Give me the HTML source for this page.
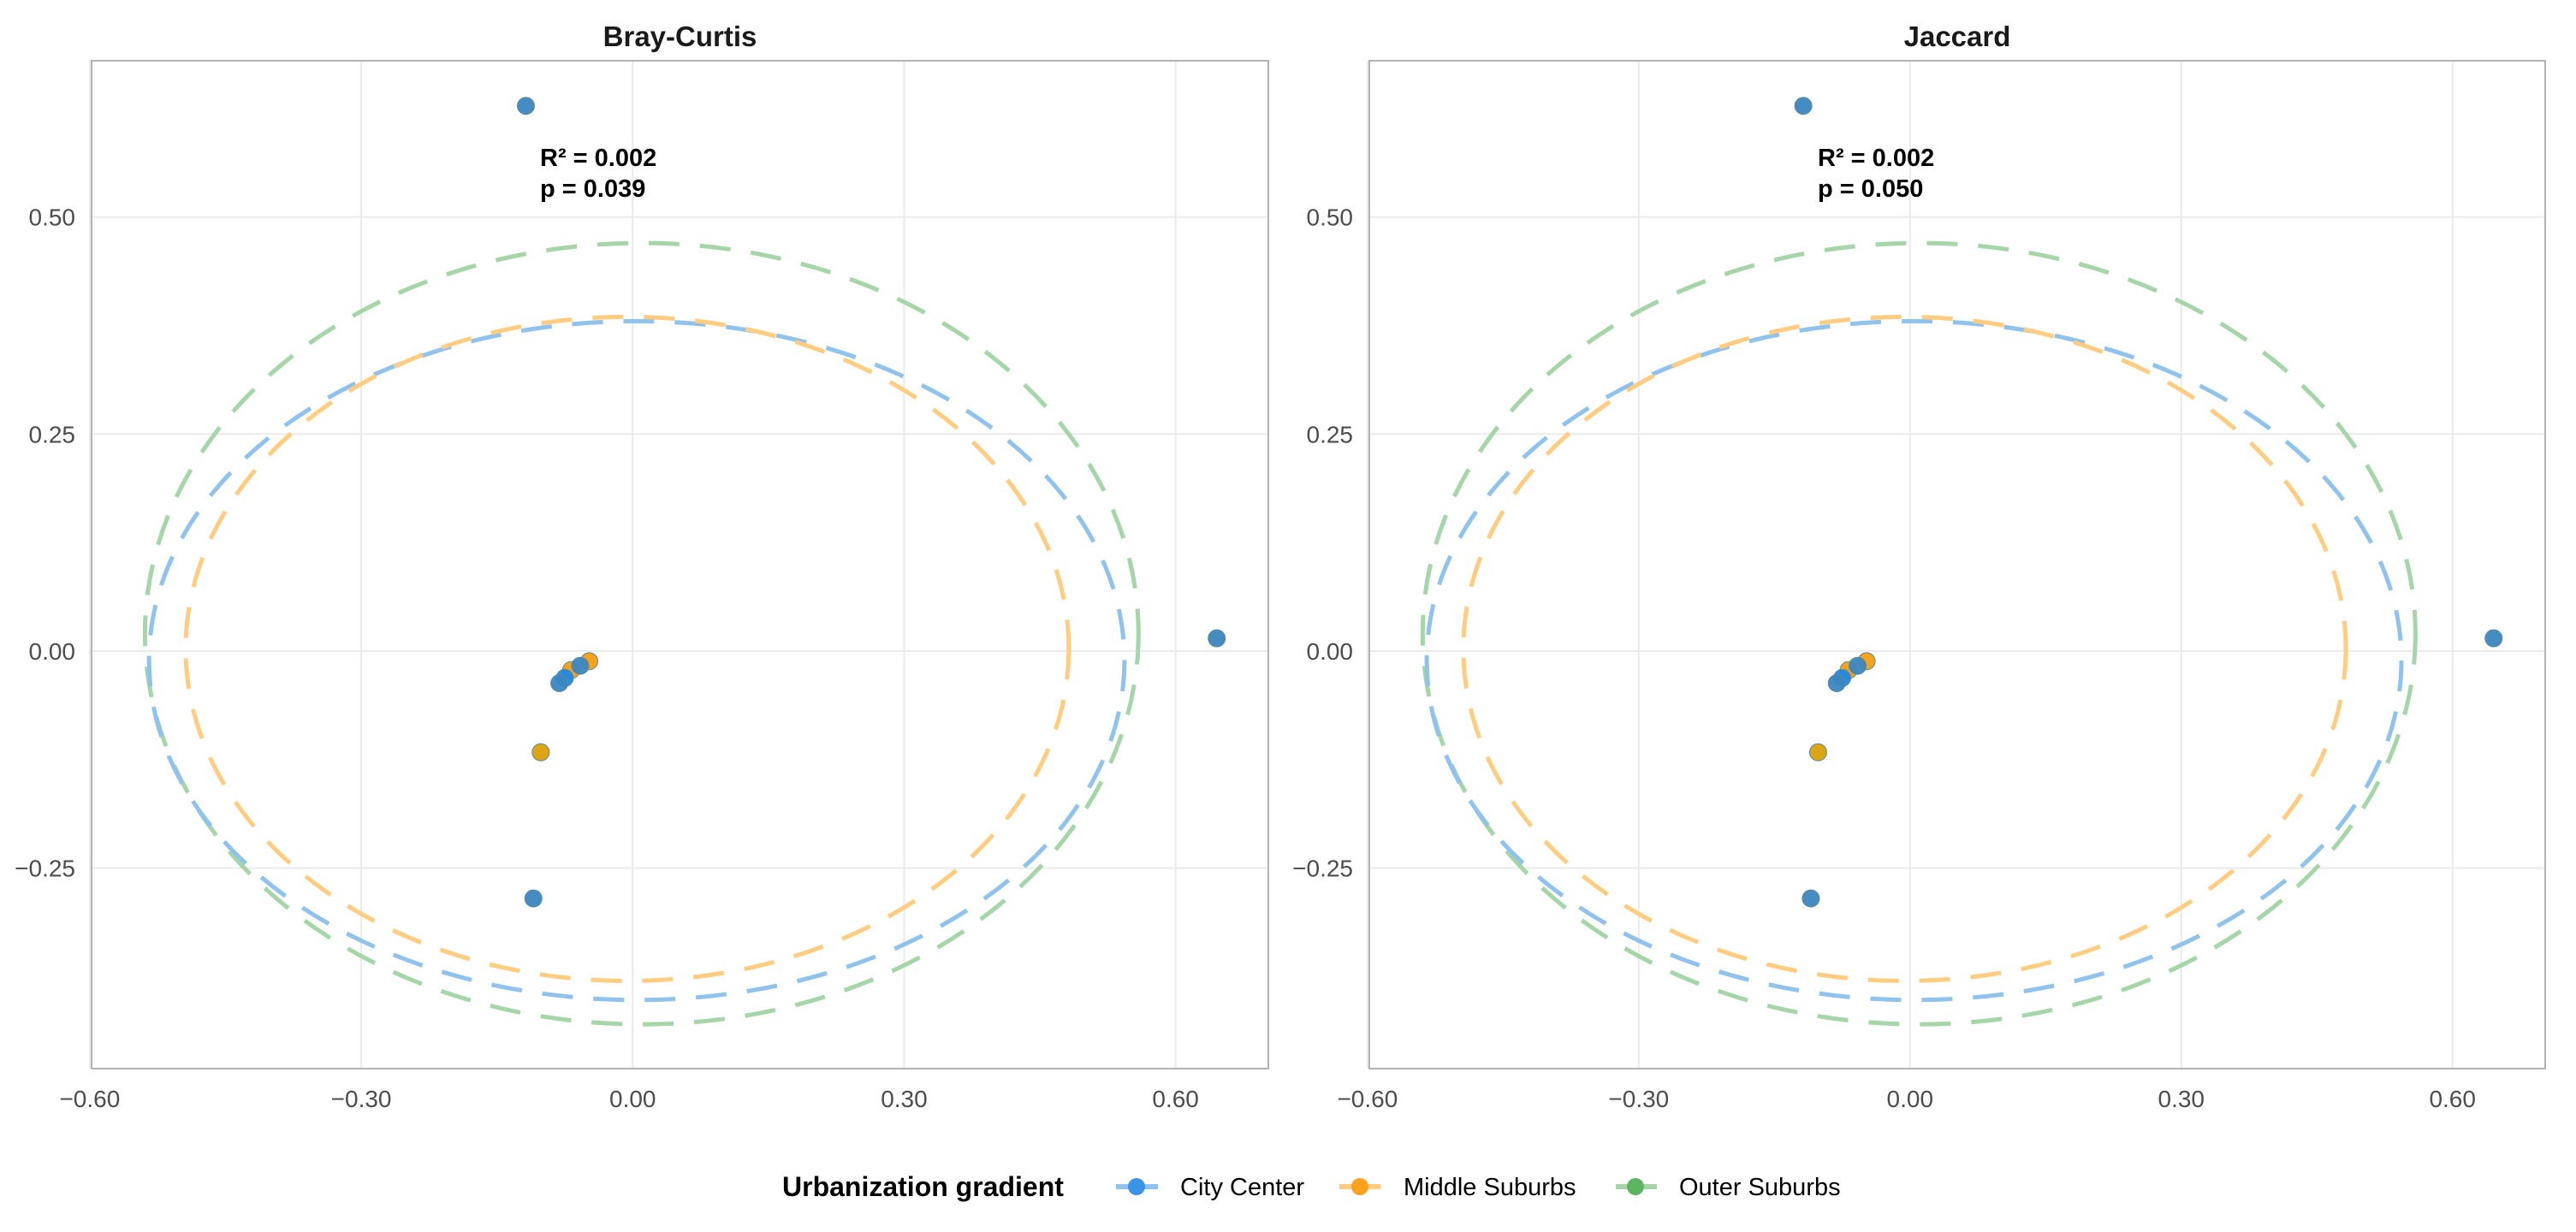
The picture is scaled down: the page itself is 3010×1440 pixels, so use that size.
<!DOCTYPE html>
<html><head><meta charset="utf-8">
<style>
html,body{margin:0;padding:0;background:#fff;}
svg{display:block;font-family:"Liberation Sans",Arial,sans-serif;}
</style></head>
<body>
<svg id="chart" width="3010" height="1440" viewBox="0 0 3010 1440" xmlns="http://www.w3.org/2000/svg">
<g id="legend">
<text x="914" y="1398" font-size="32" font-weight="bold" fill="#000">Urbanization gradient</text>
<g>
<line x1="1304" y1="1387" x2="1353" y2="1387" stroke="#90c2ee" stroke-width="6"/>
<circle cx="1328" cy="1387" r="10" fill="#3b93e6"/>
<text x="1379" y="1397" font-size="29" fill="#000">City Center</text></g>
<g>
<line x1="1565" y1="1387" x2="1613" y2="1387" stroke="#ffcc80" stroke-width="6"/>
<circle cx="1589" cy="1387" r="10" fill="#f9a21e"/>
<text x="1640" y="1397" font-size="29" fill="#000">Middle Suburbs</text></g>
<g>
<line x1="1888" y1="1387" x2="1936" y2="1387" stroke="#a5d6a7" stroke-width="6"/>
<circle cx="1911" cy="1387" r="10" fill="#5cb660"/>
<text x="1962" y="1397" font-size="29" fill="#000">Outer Suburbs</text></g>
</g>
</svg>
<script>
const panelTitles = ["Bray-Curtis", "Jaccard"];
const pValues = ["0.039", "0.050"];
const r2Values = ["0.002", "0.002"];
const xTicks = [-0.6, -0.3, 0, 0.3, 0.6];
const xTickLabels = ["\u22120.60", "\u22120.30", "0.00", "0.30", "0.60"];
const yTicks = [-0.25, 0, 0.25, 0.5];
const yTickLabels = ["\u22120.25", "0.00", "0.25", "0.50"];
// points: x, y, group
const ptX = [-0.118, 0.6455, -0.1097, -0.1016, -0.048, -0.068, -0.058, -0.075, -0.081];
const ptY = [0.628, 0.0147, -0.285, -0.1166, -0.0117, -0.022, -0.017, -0.031, -0.037];
const ptColor = ["#3b86c0", "#3b86c0", "#3b86c0", "#d9a00a", "#f59d0f", "#f59d0f", "#3b86c0", "#1e88e5", "#3b86c0"];
const ptName = ["city-center","city-center","city-center","middle-suburbs","middle-suburbs","middle-suburbs","city-center","city-center","city-center"];
// ellipses: group, center x, center y, semi-axis x, semi-axis y
const ellGroups = ["outer-suburbs", "city-center", "middle-suburbs"];
const ellCx = [0.01, 0.0045, -0.006];
const ellCy = [0.02, -0.011, 0.0025];
const ellRx = [0.549, 0.539, 0.488];
const ellRy = [0.450, 0.391, 0.3825];
const ellColor = ["#a5d6a7", "#90c2ee", "#ffcc80"];

const NS = "http://www.w3.org/2000/svg";
const svg = document.getElementById("chart");
const panels = [{l:107, r:1482}, {l:1600, r:2974}];
const top0 = 71, bot0 = 1249;
const xMin = -0.598, xMax = 0.7025, yMin = -0.481, yMax = 0.680;
function mk(tag, attrs, parent){const e=document.createElementNS(NS,tag);for(const k in attrs)e.setAttribute(k,attrs[k]);(parent||svg).appendChild(e);return e;}

panels.forEach((p, pi) => {
  const sx = v => p.l + (v - xMin) / (xMax - xMin) * (p.r - p.l);
  const sy = v => bot0 - (v - yMin) / (yMax - yMin) * (bot0 - top0);
  const g = mk("g", {});
  
  
  xTicks.forEach((t, i) => {
    const ln = mk("line", {x1:sx(t), x2:sx(t), y1:top0, y2:bot0, stroke:"#ebebeb", "stroke-width":2}, g);
    
    
    const tx = mk("text", {x:sx(t), y:1294, "font-size":28, fill:"#4d4d4d", "text-anchor":"middle"}, g);
    tx.textContent = xTickLabels[i];
    
    
  });
  yTicks.forEach((t, i) => {
    const ln = mk("line", {x1:p.l, x2:p.r, y1:sy(t), y2:sy(t), stroke:"#ebebeb", "stroke-width":2}, g);
    
    
    const tx = mk("text", {x:p.l - 19, y:sy(t) + 10, "font-size":28, fill:"#4d4d4d", "text-anchor":"end"}, g);
    tx.textContent = yTickLabels[i];
    
    
  });
  const fr = mk("rect", {x:p.l, y:top0, width:p.r-p.l, height:bot0-top0, fill:"none", stroke:"#b3b3b3", "stroke-width":2}, g);
  
  
  const ti = mk("text", {x:(p.l+p.r)/2, y:54, "font-size":33, "font-weight":"bold", fill:"#1a1a1a", "text-anchor":"middle"}, g);
  ti.textContent = panelTitles[pi];
  
  
  ellGroups.forEach((gr, i) => {
    const cx = sx(ellCx[i]), cy = sy(ellCy[i]);
    const rx = sx(ellCx[i] + ellRx[i]) - cx, ry = cy - sy(ellCy[i] + ellRy[i]);
    const el = mk("ellipse", {cx, cy, rx, ry, fill:"none", stroke:ellColor[i], "stroke-width":5, "stroke-dasharray":"36 24"}, g);
    
    
  });
  ptX.forEach((v, i) => {
    const c = mk("circle", {cx:sx(v), cy:sy(ptY[i]), r:10, fill:ptColor[i], stroke:"#5b8aa0", "stroke-width":1, "fill-opacity":0.95}, g);
    
    
  });
  const a1 = mk("text", {x:p.l + 524, y:194, "font-size":29, "font-weight":"bold", fill:"#000"}, g);
  a1.textContent = "R\u00b2 = " + r2Values[pi];
  
  
  const a2 = mk("text", {x:p.l + 524, y:230, "font-size":29, "font-weight":"bold", fill:"#000"}, g);
  a2.textContent = "p = " + pValues[pi];
  
  
});
</script>
</body></html>
